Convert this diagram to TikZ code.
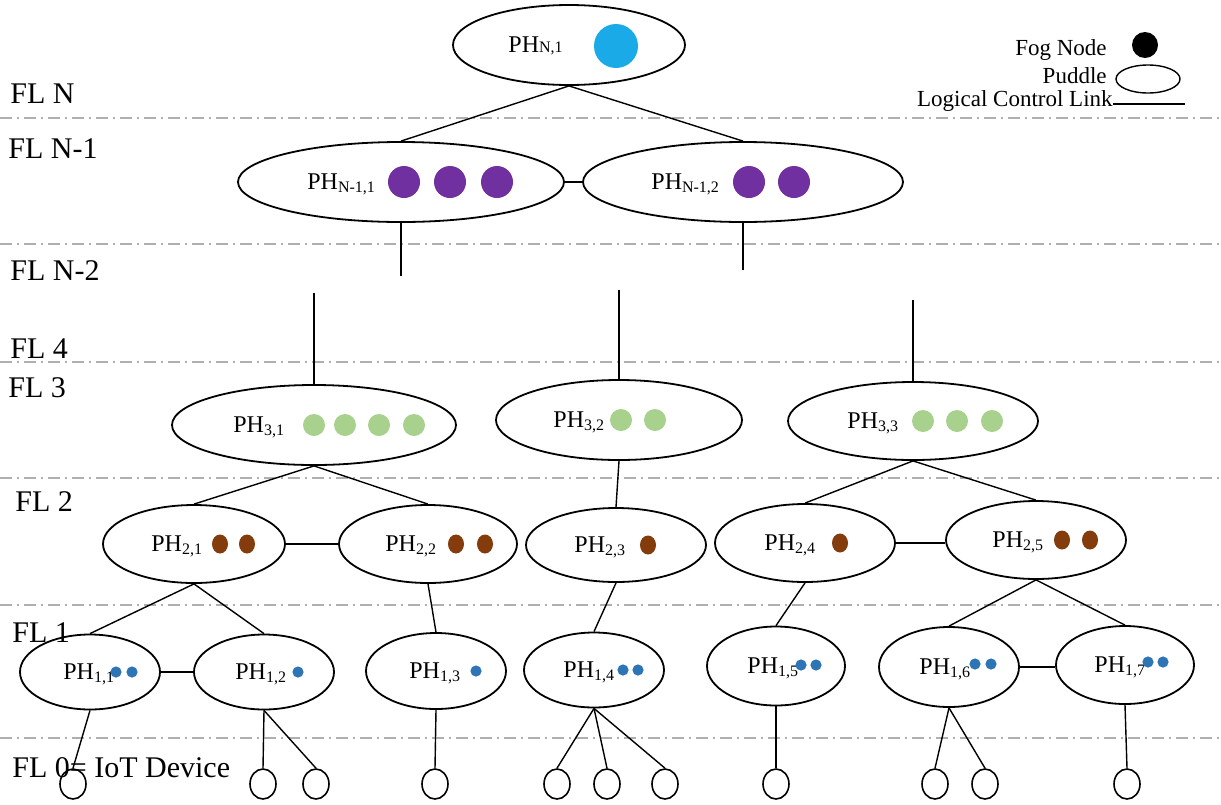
\documentclass[tikz,border=0pt]{standalone}
\usepackage{fontspec}
\setmainfont{Liberation Serif}
\usetikzlibrary{shapes.geometric}

\definecolor{fogtop}{RGB}{27,170,232}
\definecolor{fogpurple}{RGB}{112,48,160}
\definecolor{foggreen}{RGB}{169,209,142}
\definecolor{fogbrown}{RGB}{132,60,12}
\definecolor{fogblue}{RGB}{46,117,182}
\definecolor{levelgray}{RGB}{175,175,175}

\tikzset{
	puddle/.style={draw, ellipse, inner sep=0pt, line width=0.9pt},
	device/.style={draw, ellipse, inner sep=0pt, minimum width=13pt, minimum height=15pt, line width=0.8pt},
	level line/.style={levelgray, line width=1pt, dash pattern=on 6pt off 2.5pt on 1pt off 2.5pt},
	link/.style={line width=0.7pt},
	fl label/.style={anchor=base west, inner sep=0pt, font=\fontsize{15}{18}\selectfont},
	ph label/.style={anchor=base west, inner sep=0pt, font=\fontsize{12}{14}\selectfont},
	legend label/.style={anchor=base east, inner sep=0pt, font=\fontsize{11.5}{13}\selectfont},
}

\begin{document}
\begin{tikzpicture}[x=0.5pt, y=-0.5pt]
	\useasboundingbox (0,0) rectangle (1221,804);
%	% Level separators
	\foreach \y in {118,244,362,478,605,738}
		\draw[level line] (0,\y) -- (1221,\y);
%	% Level labels
	\node[fl label] (flN) at (10,103) {FL N};
	\node[fl label] (flNm1) at (8,158) {FL N-1};
	\node[fl label] (flNm2) at (10,280) {FL N-2};
	\node[fl label] (fl4) at (10,358) {FL 4};
	\node[fl label] (fl3) at (8,397) {FL 3};
	\node[fl label] (fl2) at (15,511) {FL 2};
	\node[fl label] (fl1) at (12,642) {FL 1};
	\node[fl label] (fl0) at (12,777) {FL 0= IoT Device};
%	% Legend
	\node[legend label] (lgfog) at (1107,55) {Fog Node};
	\fill (1145,45) circle (6.5pt);
	\node[legend label] (lgpuddle) at (1107,83) {Puddle};
	\node[puddle, minimum width=32pt, minimum height=14pt, line width=0.7pt] (lgellipse) at (1148,79) {};
	\node[legend label] (lglink) at (1113,106) {Logical Control Link};
	\coordinate (lglinkA) at (1113,104);
	\coordinate (lglinkB) at (1185,104);
	\draw[link] (lglinkA) -- (lglinkB);
%	% FL N
	\node[puddle, minimum width=116pt, minimum height=40pt] (phN1) at (569,45) {};
	\node[ph label] (tN1) at (508,52) {PH{\fontsize{8}{8}\selectfont N,1}};
	\fill[fogtop] (616,46) circle (11pt);
%	% FL N-1
	\node[puddle, minimum width=163pt, minimum height=40pt] (phNm11) at (401,182) {};
	\node[puddle, minimum width=160pt, minimum height=40pt] (phNm12) at (743,182) {};
	\node[ph label] (tNm11) at (307,189) {PH\textsubscript{N-1,1}};
	\node[ph label] (tNm12) at (651,189) {PH\textsubscript{N-1,2}};
	\foreach \x in {404,450,497,749,794}
		\fill[fogpurple] (\x,182) circle (8pt);
%	% FL 3
	\node[puddle, minimum width=142pt, minimum height=40pt] (ph31) at (314,425) {};
	\node[puddle, minimum width=123pt, minimum height=40pt] (ph32) at (619,420) {};
	\node[puddle, minimum width=125pt, minimum height=39pt] (ph33) at (913,421) {};
	\node[ph label] (t31) at (233,432) {PH\textsubscript{3,1}};
	\node[ph label] (t32) at (553,427) {PH\textsubscript{3,2}};
	\node[ph label] (t33) at (847,428) {PH\textsubscript{3,3}};
	\foreach \x in {314,345,379,414}
		\fill[foggreen] (\x,425) circle (5.5pt);
	\foreach \x in {621,655}
		\fill[foggreen] (\x,420) circle (5.5pt);
	\foreach \x in {923,957,992}
		\fill[foggreen] (\x,421) circle (5.5pt);
%	% FL 2
	\node[puddle, minimum width=91pt, minimum height=39pt] (ph21) at (194,544) {};
	\node[puddle, minimum width=89pt, minimum height=39pt] (ph22) at (428,544) {};
	\node[puddle, minimum width=90pt, minimum height=37pt] (ph23) at (616,545) {};
	\node[puddle, minimum width=90pt, minimum height=39pt] (ph24) at (805,543) {};
	\node[puddle, minimum width=90pt, minimum height=39pt] (ph25) at (1036,540) {};
	\node[ph label] (t21) at (151,551) {PH\textsubscript{2,1}};
	\node[ph label] (t22) at (385,551) {PH\textsubscript{2,2}};
	\node[ph label] (t23) at (574,552) {PH\textsubscript{2,3}};
	\node[ph label] (t24) at (764,550) {PH\textsubscript{2,4}};
	\node[ph label] (t25) at (992,547) {PH\textsubscript{2,5}};
	\foreach \x/\y in {220/544,247/544,456/544,485/544,648/545,840/543,1062/540,1090/540}
		\fill[fogbrown] (\x,\y) ellipse (4pt and 4.75pt);
%	% FL 1
	\node[puddle, minimum width=70pt, minimum height=37.5pt] (ph11) at (90,672) {};
	\node[puddle, minimum width=70pt, minimum height=37.5pt] (ph12) at (264,672) {};
	\node[puddle, minimum width=70pt, minimum height=38pt] (ph13) at (436,671) {};
	\node[puddle, minimum width=70pt, minimum height=37.5pt] (ph14) at (594,670) {};
	\node[puddle, minimum width=69pt, minimum height=39.5pt] (ph15) at (776,666) {};
	\node[puddle, minimum width=70pt, minimum height=40pt] (ph16) at (949,667) {};
	\node[puddle, minimum width=69pt, minimum height=39pt] (ph17) at (1125,665) {};
	\node[ph label] (t11) at (63,679) {PH\textsubscript{1,1}};
	\node[ph label] (t12) at (235,679) {PH\textsubscript{1,2}};
	\node[ph label] (t13) at (409,678) {PH\textsubscript{1,3}};
	\node[ph label] (t14) at (563,677) {PH\textsubscript{1,4}};
	\node[ph label] (t15) at (747,673) {PH\textsubscript{1,5}};
	\node[ph label] (t16) at (919,674) {PH\textsubscript{1,6}};
	\node[ph label] (t17) at (1094,672) {PH\textsubscript{1,7}};
	\foreach \x/\y in {116/672,132/672,298/672,476/671,623/670,638/670,801/665,816/665,975/664,991/664,1148/662,1163/662}
		\fill[fogblue] (\x,\y) circle (2.8pt);
%	% FL 0 = IoT devices
	\foreach \x [count=\i] in {73,263,316,435,557,607,665,776,935,985,1127}
		\node[device] (iot\i) at (\x,784) {};
%	% Cut ends of the links towards FL N-2 / FL 4
	\coordinate (cutNm11) at (401,276);
	\coordinate (cutNm12) at (743,270);
	\coordinate (cut31) at (314,293);
	\coordinate (cut32) at (619,290);
	\coordinate (cut33) at (913,300);
%	% Logical control links
	\draw[link] (phN1.south) -- (phNm11.north);
	\draw[link] (phN1.south) -- (phNm12.north);
	\draw[link] (phNm11.east) -- (phNm12.west);
	\draw[link] (phNm11.south) -- (cutNm11);
	\draw[link] (phNm12.south) -- (cutNm12);
	\draw[link] (cut31) -- (ph31.north);
	\draw[link] (cut32) -- (ph32.north);
	\draw[link] (cut33) -- (ph33.north);
	\draw[link] (ph31.south) -- (ph21.north);
	\draw[link] (ph31.south) -- (ph22.north);
	\draw[link] (ph32.south) -- (ph23.north);
	\draw[link] (ph33.south) -- (ph24.north);
	\draw[link] (ph33.south) -- (ph25.north);
	\draw[link] (ph21.east) -- (ph22.west);
	\draw[link] (ph24.east) -- (ph24.east -| ph25.west);
	\draw[link] (ph21.south) -- (ph11.north);
	\draw[link] (ph21.south) -- (ph12.north);
	\draw[link] (ph22.south) -- (ph13.north);
	\draw[link] (ph23.south) -- (ph14.north);
	\draw[link] (ph24.south) -- (ph15.north);
	\draw[link] (ph25.south) -- (ph16.north);
	\draw[link] (ph25.south) -- (ph17.north);
	\draw[link, line width=1.1pt] (ph11.east) -- (ph12.west);
	\draw[link, line width=1.1pt] (ph16.east) -- (ph16.east -| ph17.west);
	\draw[link] (ph11.south) -- (iot1.north);
	\draw[link] (ph12.south) -- (iot2.north);
	\draw[link] (ph12.south) -- (iot3.north);
	\draw[link] (ph13.south) -- (iot4.north);
	\draw[link] (ph14.south) -- (iot5.north);
	\draw[link] (ph14.south) -- (iot6.north);
	\draw[link] (ph14.south) -- (iot7.north);
	\draw[link] (ph15.south) -- (iot8.north);
	\draw[link] (ph16.south) -- (iot9.north);
	\draw[link] (ph16.south) -- (iot10.north);
	\draw[link] (ph17.south) -- (iot11.north);
\end{tikzpicture}
\end{document}
